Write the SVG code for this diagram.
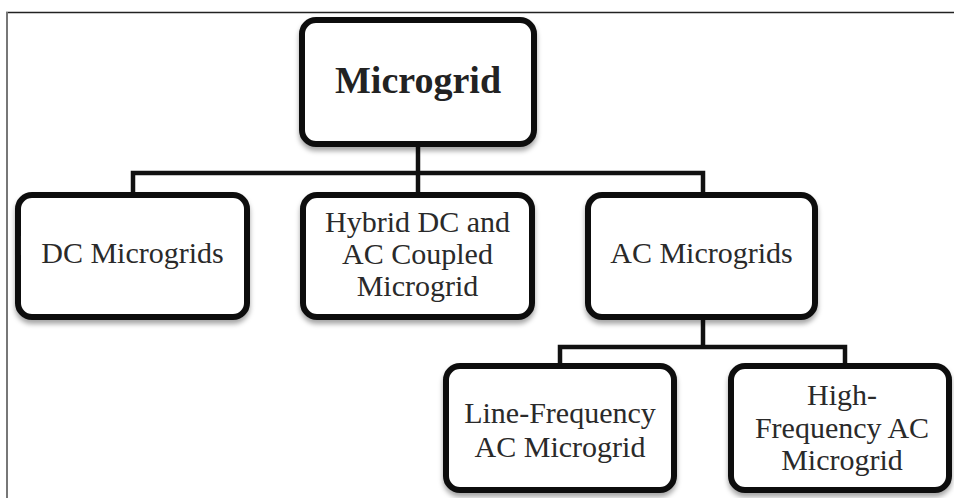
<svg xmlns="http://www.w3.org/2000/svg" width="954" height="498" viewBox="0 0 954 498">
<style>
.box{fill:#fff;stroke:#111;stroke-width:6;filter:url(#sh)}
.t{font-family:"Liberation Serif","Times New Roman",serif;font-size:30px;fill:#2a2a2a;text-anchor:middle}
.tb{font-family:"Liberation Serif","Times New Roman",serif;font-size:38px;font-weight:bold;fill:#222;text-anchor:middle}
.c{fill:none;stroke:#111;stroke-width:4.5}
</style>
<defs>
<filter id="sh" x="-10%" y="-10%" width="120%" height="130%">
<feDropShadow dx="0" dy="4" stdDeviation="2.5" flood-color="#000" flood-opacity="0.35"/>
</filter>
</defs>
<rect x="0" y="0" width="954" height="498" fill="#fff"/>
<line x1="6" y1="12.5" x2="954" y2="12.5" stroke="#222" stroke-width="1.5"/>
<line x1="7" y1="12" x2="7" y2="498" stroke="#777" stroke-width="2"/>
<g id="connectors">
<path class="c" d="M418 144 V195"/>
<path class="c" d="M133 195 V173 H703 V195"/>
<path class="c" d="M703 317 V347"/>
<path class="c" d="M560 366 V347 H845 V366"/>
</g>
<g id="microgrid">
<rect class="box" x="302" y="20" width="232" height="124" rx="14"/>
<text class="tb" x="418" y="93">Microgrid</text>
</g>
<g id="dc">
<rect class="box" x="18" y="195" width="229" height="122" rx="14"/>
<text class="t" x="132.5" y="263">DC Microgrids</text>
</g>
<g id="hybrid">
<rect class="box" x="303" y="195" width="229" height="122" rx="14"/>
<text class="t" x="417.5" y="232">Hybrid DC and</text>
<text class="t" x="417.5" y="264">AC Coupled</text>
<text class="t" x="417.5" y="296">Microgrid</text>
</g>
<g id="ac">
<rect class="box" x="588" y="195" width="227" height="122" rx="14"/>
<text class="t" x="701.5" y="263">AC Microgrids</text>
</g>
<g id="linefreq">
<rect class="box" x="446" y="366" width="228" height="124" rx="14"/>
<text class="t" x="560" y="423">Line-Frequency</text>
<text class="t" x="560" y="457">AC Microgrid</text>
</g>
<g id="highfreq">
<rect class="box" x="731" y="366" width="218" height="124" rx="14"/>
<text class="t" x="842" y="405">High-</text>
<text class="t" x="842" y="438">Frequency AC</text>
<text class="t" x="842" y="470">Microgrid</text>
</g>
</svg>
